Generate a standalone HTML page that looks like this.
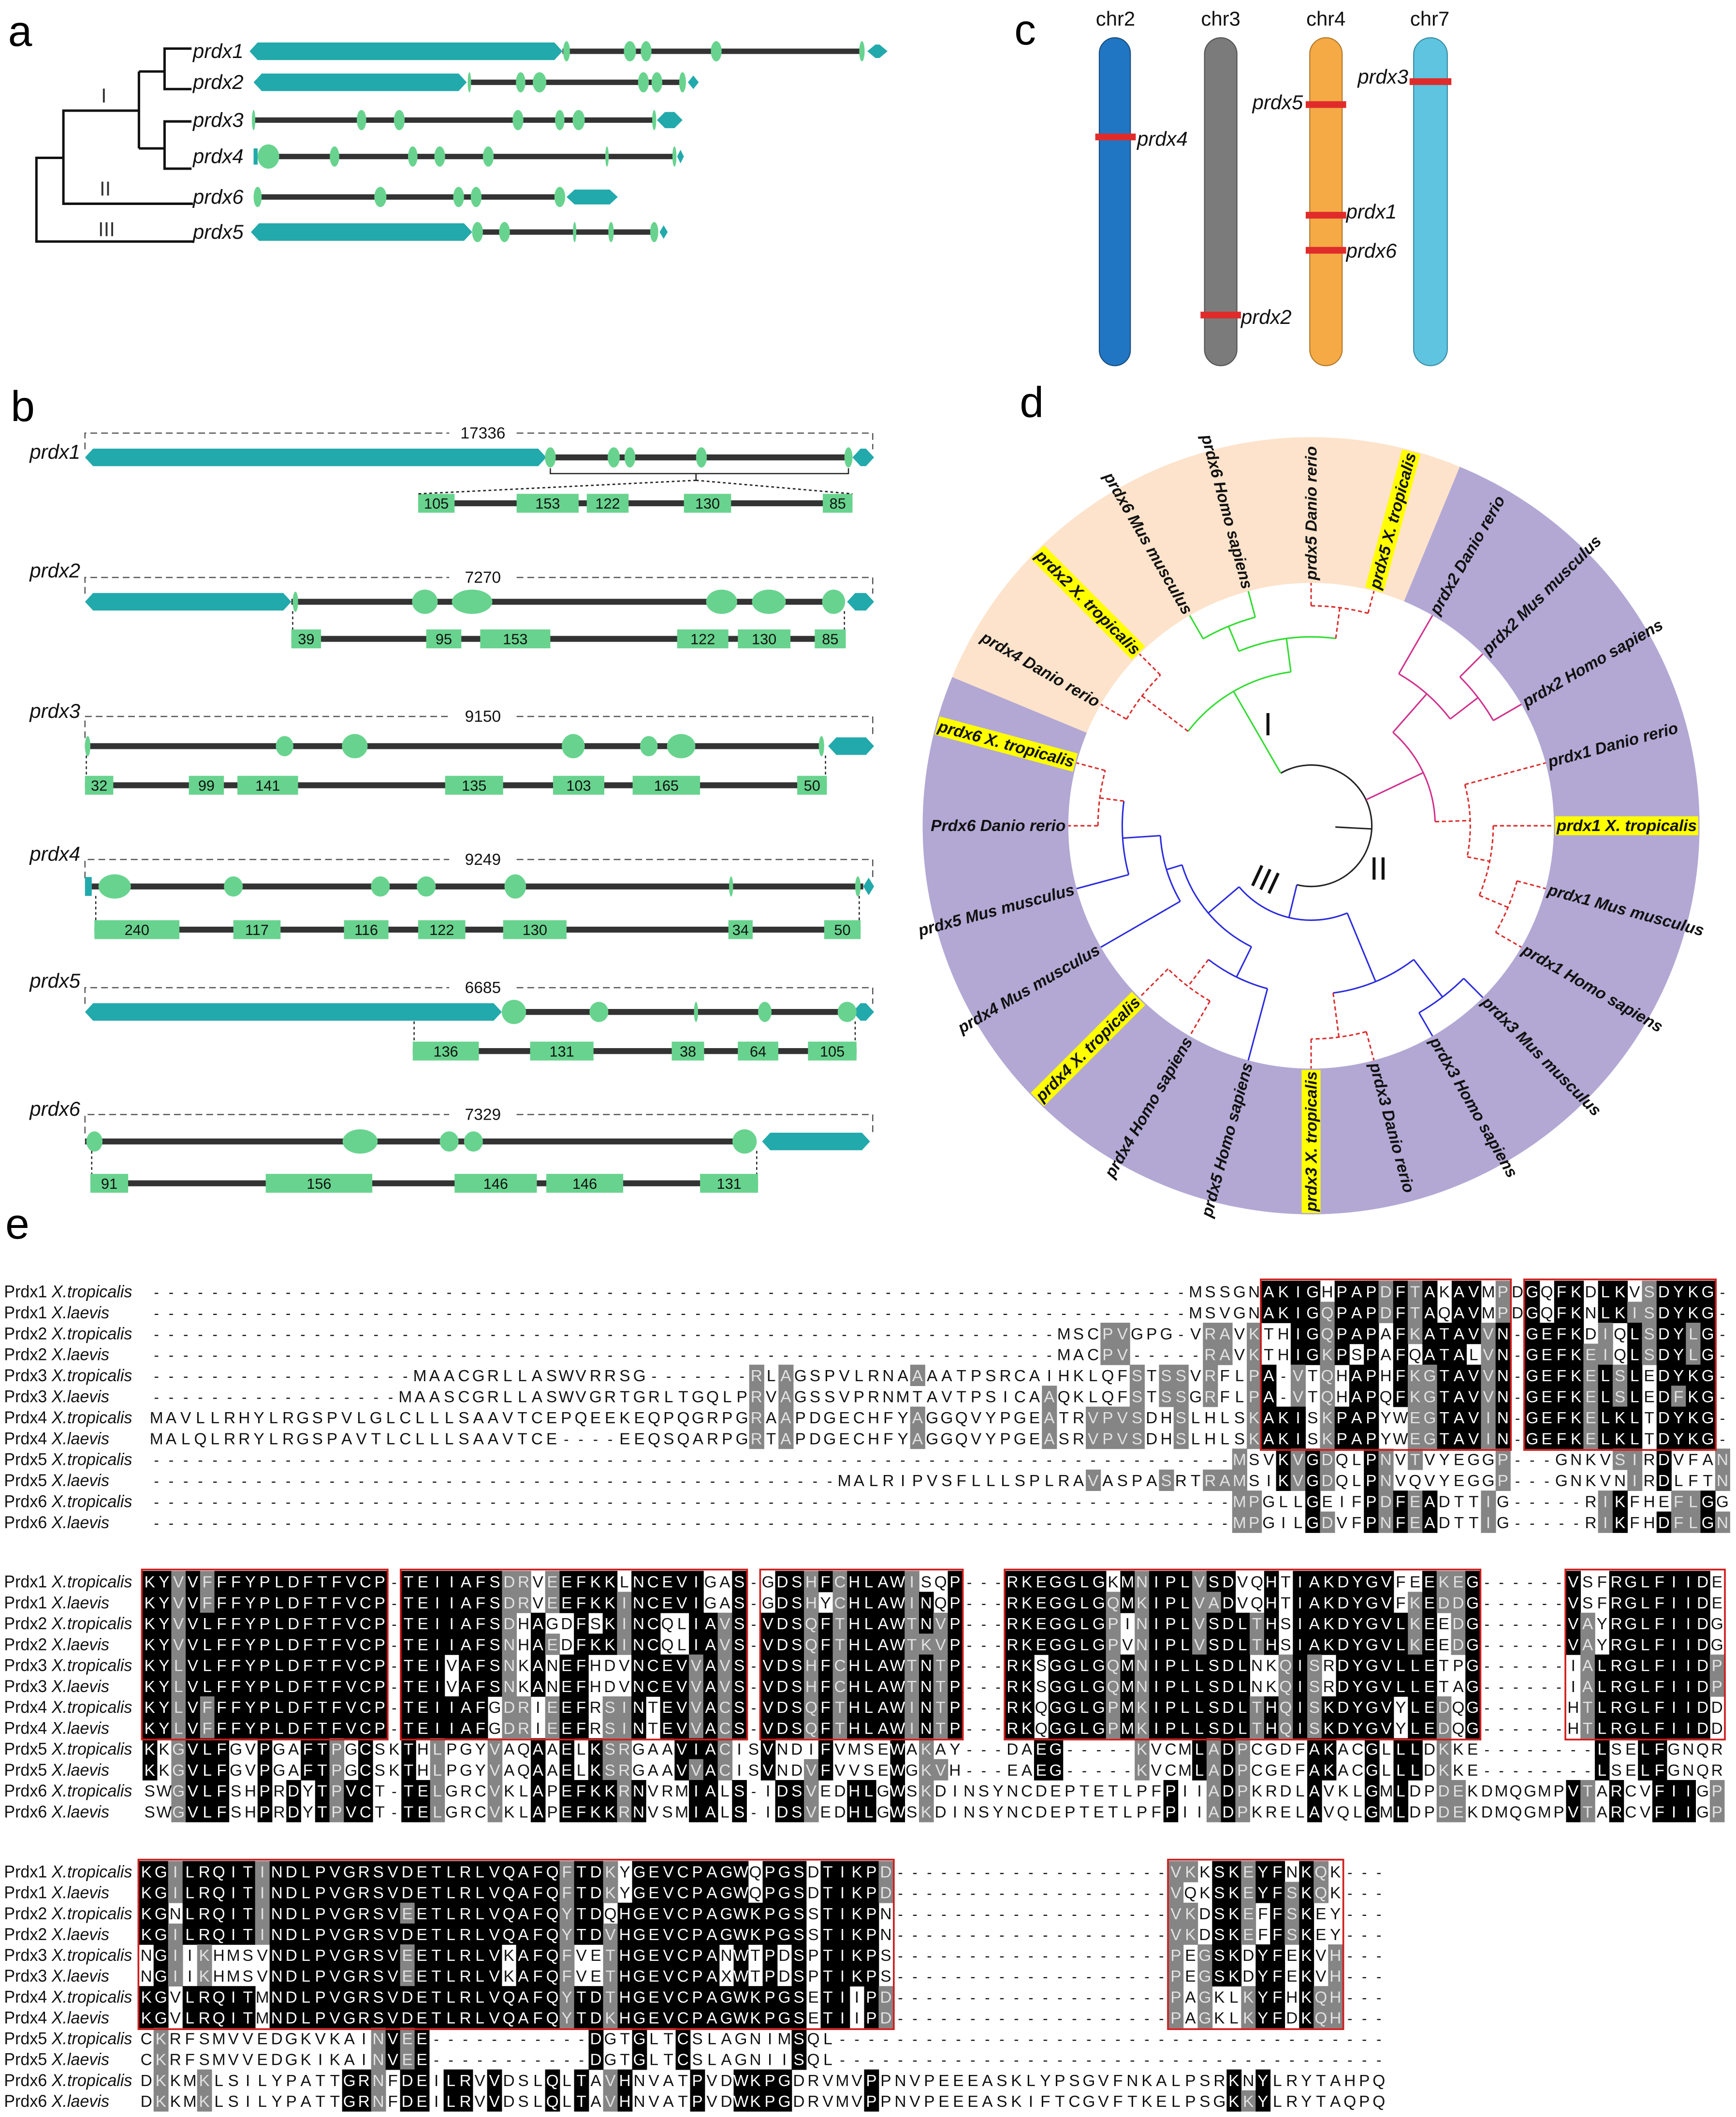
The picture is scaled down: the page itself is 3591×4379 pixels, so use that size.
<!DOCTYPE html>
<html><head><meta charset="utf-8"><title>Prdx figure</title>
<style>
html,body{margin:0;padding:0;background:#fff;}
svg{display:block;}
text{font-family:"Liberation Sans",Arial,sans-serif;}
</style></head>
<body>
<svg id="fig" xmlns="http://www.w3.org/2000/svg" width="3591" height="4379" viewBox="0 0 1287 1569" preserveAspectRatio="none">
<rect x="0" y="0" width="1287" height="1569" fill="#fff"/>
<text x="6" y="34" font-size="32">a</text>
<text x="8" y="312" font-size="32">b</text>
<text x="752" y="33" font-size="32">c</text>
<text x="756" y="309" font-size="32">d</text>
<text x="4" y="918" font-size="32">e</text>

<g stroke="#111" stroke-width="1.8" fill="none">
<polyline points="143,179 27,179 27,117 47,117"/>
<polyline points="143,151 47,151 47,82 103,82"/>
<polyline points="103,53 103,110"/>
<polyline points="103,53 122,53"/>
<polyline points="103,110 122,110"/>
<polyline points="142,36 122,36 122,66 142,66"/>
<polyline points="142,90 122,90 122,125 142,125"/>
</g>
<g font-family="Liberation Serif,serif" font-size="15" fill="#333">
<text x="77" y="76" text-anchor="middle">I</text>
<text x="78" y="145" text-anchor="middle">II</text>
<text x="79" y="175" text-anchor="middle">III</text>
</g>
<g id="panelA"></g>
<g id="panelB"></g>

<g>
<g font-size="15" text-anchor="middle" fill="#111">
<text x="827" y="19">chr2</text>
<text x="905" y="19">chr3</text>
<text x="983" y="19">chr4</text>
<text x="1060" y="19">chr7</text>
</g>
<rect x="815" y="28" width="23" height="243" rx="11.5" fill="#2176c4" stroke="#1a4f80" stroke-width="0.8"/>
<rect x="893" y="28" width="24" height="243" rx="12" fill="#7b7b7b" stroke="#555" stroke-width="0.8"/>
<rect x="971" y="28" width="24" height="243" rx="12" fill="#f5aa45" stroke="#b37a2a" stroke-width="0.8"/>
<rect x="1048" y="28" width="25" height="243" rx="12.5" fill="#5ec4e0" stroke="#3a8ea5" stroke-width="0.8"/>
<g fill="#e02b2b">
<rect x="812" y="99" width="30" height="5"/>
<rect x="890" y="231" width="30" height="5"/>
<rect x="968" y="75" width="30" height="5"/>
<rect x="968" y="157" width="30" height="5"/>
<rect x="968" y="183" width="30" height="5"/>
<rect x="1045" y="58" width="31" height="5"/>
</g>
<g font-size="15" font-style="italic" fill="#111">
<text x="843" y="108">prdx4</text>
<text x="920" y="240">prdx2</text>
<text x="966" y="81" text-anchor="end">prdx5</text>
<text x="998" y="162">prdx1</text>
<text x="998" y="191">prdx6</text>
<text x="1044" y="62" text-anchor="end">prdx3</text>
</g>
</g>

<g id="panelD"></g>
<g id="panelE"></g>
</svg>

<script>
const NS='http://www.w3.org/2000/svg';
const svg=document.getElementById('fig');
function mk(tag,attrs,parent){const e=document.createElementNS(NS,tag);for(const k in attrs)e.setAttribute(k,attrs[k]);(parent||svg).appendChild(e);return e;}
function hexPts(x1,x2,y,h){const t=Math.min(6,(x2-x1)/2);return [[x1,y],[x1+t,y-h/2],[x2-t,y-h/2],[x2,y],[x2-t,y+h/2],[x1+t,y+h/2]].map(p=>p.join(',')).join(' ');}
const TEAL='#22a9ab', GREEN='#68d38e', DARK='#333';

/* ---------- panel a ---------- */
const aNames=['prdx1','prdx2','prdx3','prdx4','prdx6','prdx5'];
const aRowY=[38,61,89,116,146,172];
const aBig=[[185,417],[188,346],null,null,null,[186,350]];
const aLine=[[417,639],[348,506],[188,485],[200,500],[191,415],[354,485]];
const aExons=[
 [[420,5],[467,9],[479,8],[531,8],[639,4]],
 [[348,2.5],[386,7],[400,10],[477,8],[487,8],[506,5]],
 [[188,2.5],[268,7],[296,8],[384,8],[415,7],[429,9],[485,3]],
 [[199,16],[248,7],[306,7],[326,8],[362,8],[450,2.5],[500,3]],
 [[191,6],[282,9],[340,8],[353,8],[415,8]],
 [[354,8],[374,8],[426,2.5],[453,4],[485,6]]];
const aTail=[[643,658,10],[510,518,10],[487,506,12],[502,507,10],[420,458,11],[489,495,10]];
const pA=document.getElementById('panelA');
aNames.forEach((nm,i)=>{
 const y=aRowY[i];
 const lab=mk('text',{x:143,y:y+5,'font-size':15,'font-style':'italic',fill:'#111'},pA);
 
 
 lab.textContent=nm;
 const ln=mk('rect',{x:aLine[i][0],y:y-2,width:aLine[i][1]-aLine[i][0],height:4,fill:DARK},pA);
 
 
 if(aBig[i]){const b=mk('polygon',{points:hexPts(aBig[i][0],aBig[i][1],y,13),fill:TEAL},pA);
  
  }
 if(nm==='prdx4'){const s=mk('rect',{x:188,y:y-6,width:3,height:12,fill:TEAL},pA);
  
  }
 const t=aTail[i];const tl=mk('polygon',{points:hexPts(t[0],t[1],y,t[2]),fill:TEAL},pA);
 
 
 aExons[i].forEach((ex,k)=>{const e=mk('ellipse',{cx:ex[0],cy:y,rx:ex[1]/2,ry:ex[1]>12?9:7.5,fill:GREEN},pA);
  
  });
});

/* ---------- panel b ---------- */
const bNames=['prdx1','prdx2','prdx3','prdx4','prdx5','prdx6'];
const bLen=['17336','7270','9150','9249','6685','7329'];
const bLabelY=[335,423,527,633,727,822];
const bDashY=[321,428,531,637,732,826];
const bGeneY=[339,446,553,657,750,846];
const bBig=[[63,405],[63,216],null,null,[63,372],null];
const bLine=[[405,629],[216,618],[63,609],[68,640],[381,628],[63,560]];
const bExons=[
 [[408,8],[455,9],[467,8],[520,8],[629,6]],
 [[219,4],[315,19],[350,30],[535,23],[570,25],[618,17]],
 [[65,4],[211,13],[263,19],[425,17],[481,13],[505,21],[609,4]],
 [[85,24],[173,14],[282,14],[316,14],[382,16],[542,3],[636,4]],
 [[381,18],[444,14],[516,3],[567,10],[628,14]],
 [[70,12],[267,26],[333,14],[351,14],[552,18]]];
const bTail=[[632,648],[628,648],[614,648],[640,648],[632,648],[565,645]];
const bRowY=[373,473.5,582,689,779,877];
const bRowLine=[[310,632],[216,627],[63,613],[70,638],[306,635],[67,562]];
const bBoxes=[
 [[310,337],[383,429],[435,466],[507,542],[610,632]],
 [[216,238],[316,342],[356,408],[502,540],[547,586],[604,627]],
 [[63,84],[140,166],[176,221],[330,373],[410,448],[469,519],[591,613]],
 [[70,133],[173,208],[255,288],[310,345],[373,420],[540,558],[611,638]],
 [[306,355],[393,440],[498,522],[547,577],[599,635]],
 [[67,95],[197,276],[337,398],[405,462],[519,562]]];
const bBoxLabels=[
 ['105','153','122','130','85'],['39','95','153','122','130','85'],['32','99','141','135','103','165','50'],
 ['240','117','116','122','130','34','50'],['136','131','38','64','105'],['91','156','146','146','131']];
const pB=document.getElementById('panelB');
bNames.forEach((nm,i)=>{
 const lab=mk('text',{x:22,y:bLabelY[i]+5,'font-size':15,'font-style':'italic',fill:'#111'},pB);
 
 
 lab.textContent=nm;
 const dy=bDashY[i], gy=bGeneY[i];
 const d1=mk('path',{d:`M63,${gy-6} V${dy} H${333} M${383},${dy} H647 V${gy-6}`,stroke:'#555','stroke-width':0.9,fill:'none','stroke-dasharray':'5,3'},pB);
 
 
 const lt=mk('text',{x:358,y:dy+4,'font-size':12,'text-anchor':'middle',fill:'#111'},pB);
 
 
 lt.textContent=bLen[i];
 const ln=mk('rect',{x:bLine[i][0],y:gy-2.2,width:bLine[i][1]-bLine[i][0],height:4.4,fill:DARK},pB);
 
 
 if(bBig[i]){const b=mk('polygon',{points:hexPts(bBig[i][0],bBig[i][1],gy,13),fill:TEAL},pB);
  
  }
 if(nm==='prdx4'){const s=mk('rect',{x:63,y:gy-7,width:5,height:14,fill:TEAL},pB);
  
  }
 const t=bTail[i];const tl=mk('polygon',{points:hexPts(t[0],t[1],gy,13),fill:TEAL},pB);
 
 
 bExons[i].forEach((ex,k)=>{const e=mk('ellipse',{cx:ex[0],cy:gy,rx:ex[1]/2,ry:ex[1]>15?9:7.5,fill:GREEN},pB);
  
  });
 const ry=bRowY[i];
 const rl=mk('rect',{x:bRowLine[i][0],y:ry-2.2,width:bRowLine[i][1]-bRowLine[i][0],height:4.4,fill:DARK},pB);
 
 
 bBoxes[i].forEach((bx,k)=>{
  const r=mk('rect',{x:bx[0],y:ry-7,width:bx[1]-bx[0],height:14,fill:GREEN},pB);
  
  
  const tx=mk('text',{x:(bx[0]+bx[1])/2,y:ry+4,'font-size':11,'text-anchor':'middle',fill:'#111'},pB);
  
  
  tx.textContent=bBoxLabels[i][k];
 });
 if(i===0){
  const br=mk('path',{d:'M408,347 V351 H629 V347 M516,351 V356',stroke:'#222','stroke-width':0.9,fill:'none'},pB);
  
  
  const dl=mk('path',{d:'M516,356 L310,366 M516,356 L632,366',stroke:'#222','stroke-width':1,fill:'none','stroke-dasharray':'2,2'},pB);
  
  
 } else {
  const dl=mk('path',{d:`M${bRowLine[i][0]+1},${gy+7} V${ry-7} M${bRowLine[i][1]-1},${gy+7} V${ry-7}`,stroke:'#222','stroke-width':0.9,fill:'none','stroke-dasharray':'2,2'},pB);
  
  
 }
});

/* ---------- panel d ---------- */
const pD=document.getElementById('panelD');
const cx=972, cy=612, R=288, RI=180;
function P(r,a){const t=a*Math.PI/180;return [cx+r*Math.sin(t), cy-r*Math.cos(t)];}
function sector(a1,a2,fill,name){
 const large=(a2-a1)>180?1:0;
 const p1=P(R,a1),p2=P(R,a2),p3=P(RI,a2),p4=P(RI,a1);
 const s=mk('path',{d:`M${p1} A${R},${R} 0 ${large} 1 ${p2} L${p3} A${RI},${RI} 0 ${large} 0 ${p4} Z`,fill:fill},pD);
 
 
}
sector(-67.5,22.5,'#fde3cb','sector-clade-I');
sector(22.5,292.5,'#b3a8d4','sector-clade-II-III');
const leaves=['prdx4 Danio rerio','prdx2 X. tropicalis','prdx6 Mus musculus','prdx6 Homo sapiens','prdx5 Danio rerio','prdx5 X. tropicalis',
 'prdx2 Danio rerio','prdx2 Mus musculus','prdx2 Homo sapiens','prdx1 Danio rerio','prdx1 X. tropicalis','prdx1 Mus musculus',
 'prdx1 Homo sapiens','prdx3 Mus musculus','prdx3 Homo sapiens','prdx3 Danio rerio','prdx3 X. tropicalis','prdx5 Homo sapiens',
 'prdx4 Homo sapiens','prdx4 X. tropicalis','prdx4 Mus musculus','prdx5 Mus musculus','Prdx6 Danio rerio','prdx6 X. tropicalis'];
const leafStart=-60, leafStep=15;
function L(i){return {leaf:i};}
function N(r,s,c){return {r:r,s:s,c:c};}
const tree=N(45,'k',[
 N(115,'g',[N(158,'r',[L(0),L(1)]), N(140,'g',[N(160,'g',[L(2),L(3)]), N(163,'r',[L(4),L(5)])])]),
 N(92,'m',[N(130,'m',[L(6),N(156,'m',[L(7),L(8)])]), N(118,'r',[L(9),N(135,'r',[L(10),N(158,'r',[L(11),L(12)])])])]),
 N(70,'b',[N(125,'b',[N(160,'b',[L(13),L(14)]),N(158,'r',[L(15),L(16)])]),
           N(100,'b',[N(125,'b',[L(17),N(150,'r',[L(18),L(19)])]), N(112,'b',[L(20),N(140,'b',[L(21),N(158,'r',[L(22),L(23)])])])])])
]);
const ST={g:['#2fdc2f',''],m:['#d12f8c',''],b:['#2a2ae0',''],r:['#d92b2b','3,2'],k:['#222','']};
function ang(n){if(n.leaf!==undefined)return leafStart+leafStep*n.leaf;n.a=(ang(n.c[0])+ang(n.c[n.c.length-1]))/2;return n.a;}
ang(tree);
let edgeId=0;
function draw(n){
 if(n.leaf!==undefined)return;
 const a1=ang(n.c[0]),a2=ang(n.c[n.c.length-1]);
 const p1=P(n.r,a1),p2=P(n.r,a2);
 const st=ST[n.s];
 const arc=mk('path',{d:`M${p1} A${n.r},${n.r} 0 ${(a2-a1)>180?1:0} 1 ${p2}`,stroke:st[0],'stroke-width':1.1,fill:'none','stroke-dasharray':st[1]||'none'},pD);
 
 
 n.c.forEach(ch=>{
  const a=ang(ch), r2=ch.leaf!==undefined?RI:ch.r;
  const cs=ST[ch.leaf!==undefined?n.s:ch.s];
  const ln=mk('line',{x1:P(n.r,a)[0],y1:P(n.r,a)[1],x2:P(r2,a)[0],y2:P(r2,a)[1],stroke:cs[0],'stroke-width':1.1,'stroke-dasharray':cs[1]||'none'},pD);
  
  
  draw(ch);
 });
}
draw(tree);
const stub=mk('line',{x1:P(18,93)[0],y1:P(18,93)[1],x2:P(45,93)[0],y2:P(45,93)[1],stroke:'#222','stroke-width':1.1},pD);


leaves.forEach((nm,i)=>{
 const a=leafStart+leafStep*i; const an=((a%360)+360)%360;
 const right=an<180;
 const p=P(RI+2,a);
 const g=mk('g',{transform:`translate(${p[0]},${p[1]}) rotate(${right?an-90:an+90})`},pD);
 
 
 const hl=nm.indexOf('X. tropicalis')>=0;
 let rect=null;
 if(hl){rect=mk('rect',{x:0,y:-7,width:10,height:14,fill:'#ffff00'},g);
  
  }
 const t=mk('text',{x:0,y:4,'font-size':12,'font-weight':'bold','font-style':'italic','text-anchor':right?'start':'end',fill:'#111'},g);
 
 
 t.textContent=nm;
 if(rect){let w=nm.length*6.6;try{w=t.getComputedTextLength()||w;}catch(e){}
  rect.setAttribute('width',w+2);rect.setAttribute('x',right?-1:-w-1);}
});
const rn=[['I',940,545,0],['II',1022,652,0],['III',938,660,25]];
rn.forEach((r,k)=>{const t=mk('text',{x:r[1],y:r[2],'font-size':24,'font-family':'Liberation Serif,serif','text-anchor':'middle',fill:'#111',transform:`rotate(${r[3]},${r[1]},${r[2]-8})`},pD);
 
 
 t.textContent=r[0];});

/* ---------- panel e ---------- */
const rowNames=['Prdx1 X.tropicalis','Prdx1 X.laevis','Prdx2 X.tropicalis','Prdx2 X.laevis','Prdx3 X.tropicalis','Prdx3 X.laevis','Prdx4 X.tropicalis','Prdx4 X.laevis','Prdx5 X.tropicalis','Prdx5 X.laevis','Prdx6 X.tropicalis','Prdx6 X.laevis'];
const D=n=>'-'.repeat(n);
const block1=[
 D(71)+'MSSGNAKIGHPAPDFTAKAVMPDGQFKDLKVSDYKG-',
 D(71)+'MSVGNAKIGQPAPDFTAQAVMPDGQFKNLKISDYKG-',
 D(62)+'MSCPVGPG-VRAVKTHIGQPAPAFKATAVVN-GEFKDIQLSDYLG-',
 D(62)+'MACPV-----RAVKTHIGKPSPAFQATALVN-GEFKEIQLSDYLG-',
 D(18)+'MAACGRLLASWVRRSG-------RLAGSPVLRNAAAATPSRCAIHKLQFSTSSVRFLPA-VTQHAPHFKGTAVVN-GEFKELSLEDYKG-',
 D(17)+'MAASCGRLLASWVGRTGRLTGQLPRVAGSSVPRNMTAVTPSICAAQKLQFSTSSGRFLPA-VTQHAPQFKGTAVVN-GEFKELSLEDFKG-',
 'MAVLLRHYLRGSPVLGLCLLLSAAVTCEPQEEKEQPQGRPGRAAPDGECHFYAGGQVYPGEATRVPVSDHSLHLSKAKISKPAPYWEGTAVIN-GEFKELKLTDYKG-',
 'MALQLRRYLRGSPAVTLCLLLSAAVTCE----EEQSQARPGRTAPDGECHFYAGGQVYPGEASRVPVSDHSLHLSKAKISKPAPYWEGTAVIN-GEFKELKLTDYKG-',
 D(74)+'MSVKVGDQLPNVTVYEGGP---GNKVSIRDVFAN',
 D(47)+'MALRIPVSFLLLSPLRAVASPASRTRAMSIKVGDQLPNVQVYEGGP---GNKVNIRDLFTN',
 D(74)+'MPGLLGEIFPDFEADTTIG-----RIKFHEFLGG',
 D(74)+'MPGILGDVFPNFEADTTIG-----RIKFHDFLGN'];
const block2=[
 'KYVVFFFYPLDFTFVCP-TEIIAFSDRVEEFKKLNCEVIGAS-GDSHFCHLAWISQP---RKEGGLGKMNIPLVSDVQHTIAKDYGVFEEKEG------VSFRGLFIIDE',
 'KYVVFFFYPLDFTFVCP-TEIIAFSDRVEEFKKINCEVIGAS-GDSHYCHLAWINQP---RKEGGLGQMKIPLVADVQHTIAKDYGVFKEDDG------VSFRGLFIIDE',
 'KYVVLFFYPLDFTFVCP-TEIIAFSDHAGDFSKINCQLIAVS-VDSQFTHLAWTNVP---RKEGGLGPINIPLVSDLTHSIAKDYGVLKEEDG------VAYRGLFIIDG',
 'KYVVLFFYPLDFTFVCP-TEIIAFSNHAEDFKKINCQLIAVS-VDSQFTHLAWTKVP---RKEGGLGPVNIPLVSDLTHSIAKDYGVLKEEDG------VAYRGLFIIDG',
 'KYLVLFFYPLDFTFVCP-TEIVAFSNKANEFHDVNCEVVAVS-VDSHFCHLAWTNTP---RKSGGLGQMNIPLLSDLNKQISRDYGVLLETPG------IALRGLFIIDP',
 'KYLVLFFYPLDFTFVCP-TEIVAFSNKANEFHDVNCEVVAVS-VDSHFCHLAWTNTP---RKSGGLGQMNIPLLSDLNKQISRDYGVLLETAG------IALRGLFIIDP',
 'KYLVFFFYPLDFTFVCP-TEIIAFGDRIEEFRSINTEVVACS-VDSQFTHLAWINTP---RKQGGLGPMKIPLLSDLTHQISKDYGVYLEDQG------HTLRGLFIIDD',
 'KYLVFFFYPLDFTFVCP-TEIIAFGDRIEEFRSINTEVVACS-VDSQFTHLAWINTP---RKQGGLGPMKIPLLSDLTHQISKDYGVYLEDQG------HTLRGLFIIDD',
 'KKGVLFGVPGAFTPGCSKTHLPGYVAQAAELKSRGAAVIACISVNDIFVMSEWAKAY---DAEG-----KVCMLADPCGDFAKACGLLLDKKE--------LSELFGNQR',
 'KKGVLFGVPGAFTPGCSKTHLPGYVAQAAELKSRGAAVVACISVNDVFVVSEWGKVH---EAEG-----KVCMLADPCGEFAKACGLLLDKKE--------LSELFGNQR',
 'SWGVLFSHPRDYTPVCT-TELGRCVKLAPEFKKRNVRMIALS-IDSVEDHLGWSKDINSYNCDEPTETLPFPIIADPKRDLAVKLGMLDPDEKDMQGMPVTARCVFIIGP',
 'SWGVLFSHPRDYTPVCT-TELGRCVKLAPEFKKRNVSMIALS-IDSVEDHLGWSKDINSYNCDEPTETLPFPIIADPKRELAVQLGMLDPDEKDMQGMPVTARCVFIIGP'];
const block3=[
 'KGILRQITINDLPVGRSVDETLRLVQAFQFTDKYGEVCPAGWQPGSDTIKPD'+D(19)+'VKKSKEYFNKQK---',
 'KGILRQITINDLPVGRSVDETLRLVQAFQFTDKYGEVCPAGWQPGSDTIKPD'+D(19)+'VQKSKEYFSKQK---',
 'KGNLRQITINDLPVGRSVEETLRLVQAFQYTDQHGEVCPAGWKPGSSTIKPN'+D(19)+'VKDSKEFFSKEY---',
 'KGILRQITINDLPVGRSVDETLRLVQAFQYTDVHGEVCPAGWKPGSSTIKPN'+D(19)+'VKDSKEFFSKEY---',
 'NGIIKHMSVNDLPVGRSVEETLRLVKAFQFVETHGEVCPANWTPDSPTIKPS'+D(19)+'PEGSKDYFEKVH---',
 'NGIIKHMSVNDLPVGRSVEETLRLVKAFQFVETHGEVCPAXWTPDSPTIKPS'+D(19)+'PEGSKDYFEKVH---',
 'KGVLRQITMNDLPVGRSVDETLRLVQAFQYTDTHGEVCPAGWKPGSETIIPD'+D(19)+'PAGKLKYFHKQH---',
 'KGVLRQITMNDLPVGRSVDETLRLVQAFQYTDKHGEVCPAGWKPGSETIIPD'+D(19)+'PAGKLKYFDKQH---',
 'CKRFSMVVEDGKVKAINVEE'+D(11)+'DGTGLTCSLAGNIMSQL'+D(38),
 'CKRFSMVVEDGKIKAINVEE'+D(11)+'DGTGLTCSLAGNIISQL'+D(38),
 'DKKMKLSILYPATTGRNFDEILRVVDSLQLTAVHNVATPVDWKPGDRVMVPPNVPEEEASKLYPSGVFNKALPSRKNYLRYTAHPQ',
 'DKKMKLSILYPATTGRNFDEILRVVDSLQLTAVHNVATPVDWKPGDRVMVPPNVPEEEASKIFTCGVFTKELPSGKKYLRYTAQPQ'];
const blockSeqs=[block1,block2,block3];
const blockLen=[108,110,86];
const blockX0=[116,111,108.5];
const blockPitch=[10.85,10.66,10.75];
const blockY0=[957,1172,1387];
const blockRowH=[15.55,15.5,15.45];
const blockBoxes=[[[76,92],[94,106]],[[0,16],[18,41],[43,56],[60,92],[99,109]],[[0,51],[71,82]]];
const pE=document.getElementById('panelE');
blockSeqs.forEach((rows,b)=>{
 const n=blockLen[b], x0=blockX0[b], pw=blockPitch[b], y0=blockY0[b], rh=blockRowH[b];
 const seqs=rows.map(s=>(s+D(n)).slice(0,n));
 const bg=mk('g',{},pE);
 
 
 const cnt=[];
 for(let c=0;c<n;c++){const col={};seqs.forEach(q=>{if(q[c]!=='-')col[q[c]]=(col[q[c]]||0)+1;});cnt.push(col);}
 for(let c=0;c<n;c++){
  seqs.forEach((s,r)=>{
   const ch=s[c]; if(ch==='-')return;
   const k=cnt[c][ch]; let fill=null;
   if(k>=6)fill='#000';else if(k>=3)fill='#858585';
   if(fill){const rc=mk('rect',{x:x0+c*pw-pw/2,y:y0+r*rh-rh/2,width:pw+0.3,height:rh+0.3,fill:fill},bg);
    
    }
  });
 }
 seqs.forEach((s,r)=>{
  const y=y0+r*rh;
  const lab=mk('text',{x:3,y:y+4.5,'font-size':12.5,fill:'#111',textLength:r%2===0?95:78,lengthAdjust:'spacingAndGlyphs'},bg);
  
  
  const nm=rowNames[r].split(' ');
  lab.textContent=nm[0]+' ';
  const ts=mk('tspan',{'font-style':'italic'},lab);
  ts.textContent=nm[1];
  for(let c=0;c<n;c++){
   const ch=s[c]; const x=x0+c*pw;
   const k=ch==='-'?0:cnt[c][ch];
   const col=k>=6?'#fff':(k>=3?'#e2e2e2':'#111');
   const t=mk('text',{x:x,y:y+4.5,'font-size':ch==='-'?11:12,'text-anchor':'middle',fill:col},bg);
   
   
   t.textContent=ch;
  }
 });
 blockBoxes[b].forEach((bx,k)=>{
  const rc=mk('rect',{x:x0+bx[0]*pw-pw/2-0.5,y:y0-rh/2-1,width:(bx[1]-bx[0]+1)*pw+1,height:8*rh+2,fill:'none',stroke:'#d01c1c','stroke-width':1.3},bg);
  
  
 });
});
</script>
</body></html>
